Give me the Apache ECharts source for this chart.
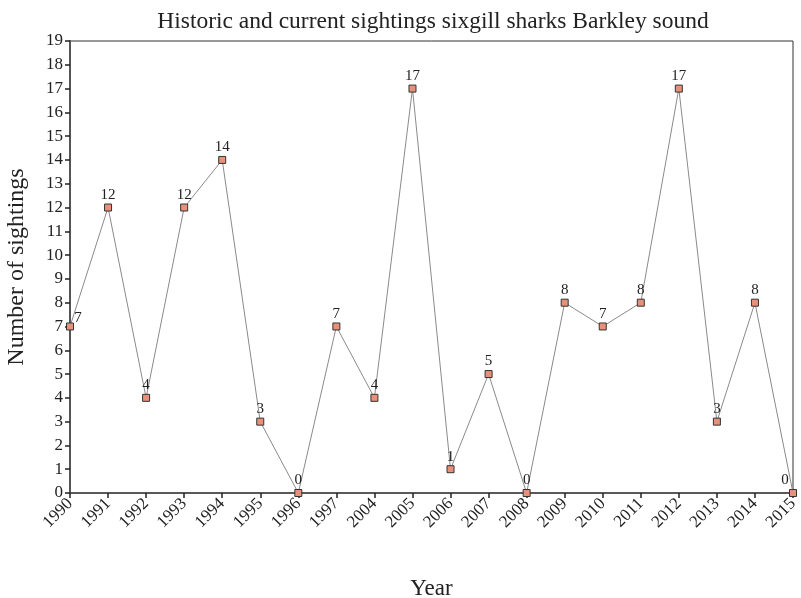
<!DOCTYPE html>
<html><head><meta charset="utf-8">
<script src="https://cdn.jsdelivr.net/npm/echarts@6/dist/echarts.min.js"></script>
<style>html,body{margin:0;padding:0;background:#fff}#c{width:801px;height:598px}</style>
</head><body><div id="c"></div>
<script>
const years = ['1990','1991','1992','1993','1994','1995','1996','1997','2004','2005','2006','2007','2008','2009','2010','2011','2012','2013','2014','2015'];
const sightings = [7,12,4,12,14,3,0,7,4,17,1,5,0,8,7,8,17,3,8,0];
const yTicks = {min:0, max:19, interval:1};
const font = 'Liberation Serif, Times New Roman, serif';
const chart = echarts.init(document.getElementById('c'));
const data = sightings.map((v,i)=> i===0 ? {value:v, label:{offset:[8,4]}} : (i===sightings.length-1 ? {value:v, label:{offset:[-8,0]}} : v));
chart.setOption({
  animation:false,
  title:{text:'Historic and current sightings sixgill sharks Barkley sound', left:428, textAlign:'center', top:5,
    textStyle:{fontFamily:font, fontSize:23.5, fontWeight:'normal', color:'#222'}},
  grid:{left:70, right:8, top:41, bottom:105, show:true, borderColor:'#333', borderWidth:1, containLabel:false, outerBoundsMode:'none'},
  xAxis:{type:'category', data:years, boundaryGap:false,
    name:'Year', nameLocation:'middle', nameGap:84,
    nameTextStyle:{fontFamily:font, fontSize:23, color:'#222'},
    axisLine:{lineStyle:{color:'#444', width:1.5}},
    axisTick:{show:true, length:5, lineStyle:{color:'#222', width:1.5}},
    axisLabel:{rotate:45, fontFamily:font, fontSize:17, color:'#222', margin:8, interval:0},
    splitLine:{show:false}},
  yAxis:{type:'value', min:yTicks.min, max:yTicks.max, interval:yTicks.interval,
    name:'Number of sightings', nameLocation:'middle', nameGap:41,
    nameTextStyle:{fontFamily:font, fontSize:24, color:'#222'},
    axisLine:{show:true, lineStyle:{color:'#555', width:2}},
    axisTick:{show:true, length:5, lineStyle:{color:'#222', width:1.5}},
    axisLabel:{fontFamily:font, fontSize:17, color:'#222', margin:7},
    splitLine:{show:false}},
  series:[{type:'line', data:data, symbol:'rect', symbolSize:7,
    lineStyle:{color:'#8a8a8a', width:1},
    itemStyle:{color:'#e8907a', borderColor:'#333', borderWidth:1},
    label:{show:true, position:'top', distance:1, fontFamily:font, fontSize:15, color:'#222'}}]
});
</script></body></html>
